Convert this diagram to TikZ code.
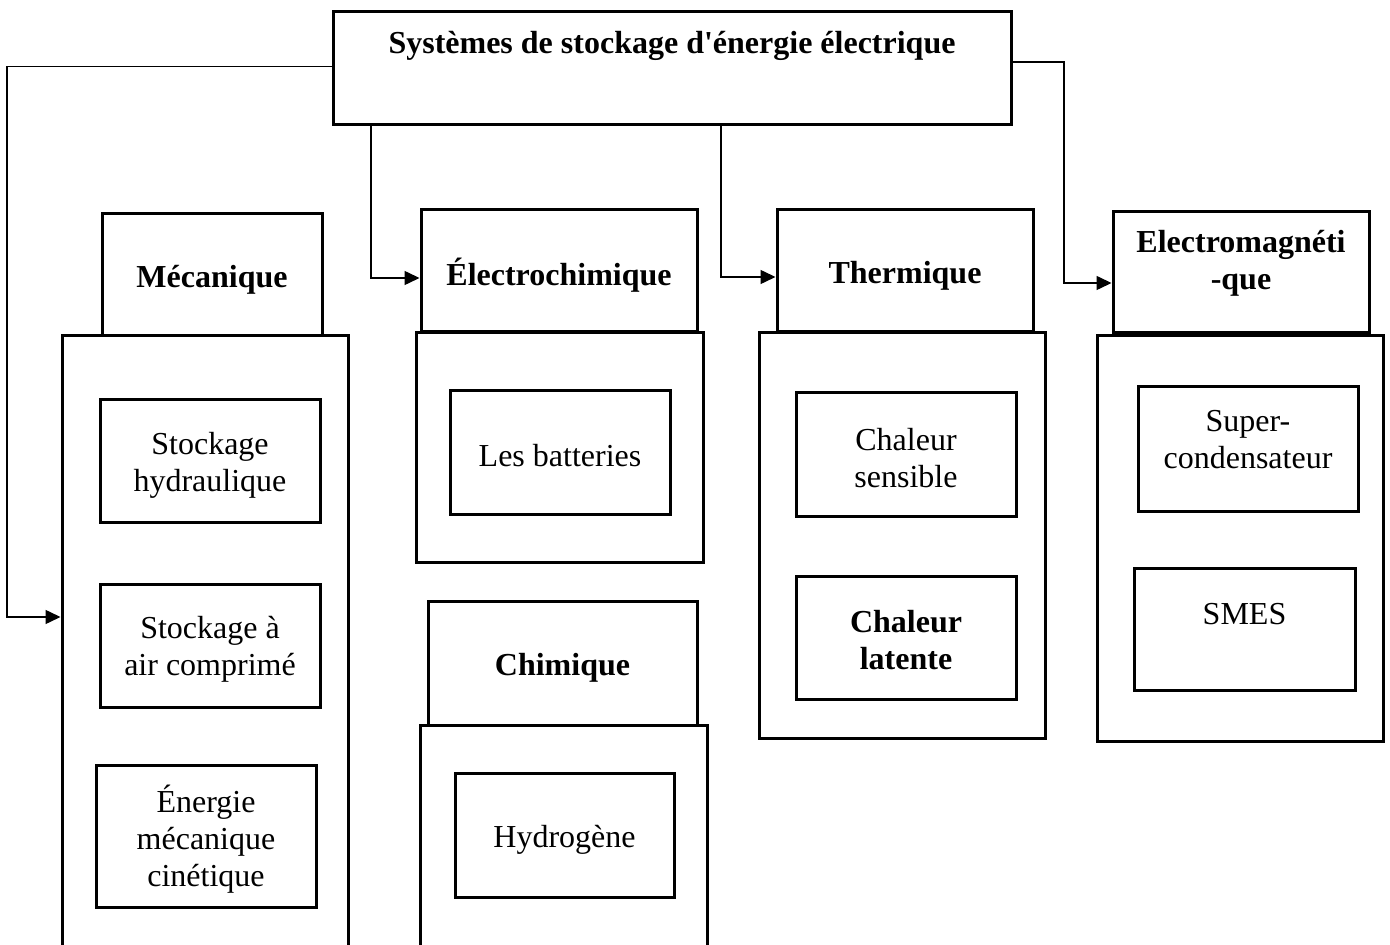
\documentclass[tikz,border=0pt]{standalone}
\usepackage{fontspec}
\setmainfont{Liberation Serif}[Ligatures=TeXOff]
\usetikzlibrary{arrows.meta}
\tikzset{
  box/.style={draw, line width=1.5pt, inner sep=0pt},
  txt/.style={inner sep=0pt, align=center, font=\fontsize{16}{18.5}\selectfont},
  btxt/.style={txt, font=\fontsize{16}{18.5}\selectfont\bfseries},
  conn/.style={line width=0.75pt, -{Triangle[length=7.5pt,width=7pt]}}
}
\begin{document}
\begin{tikzpicture}[x=0.5pt,y=-0.5pt]
\useasboundingbox (0,0) rectangle (1390,945);
% title
\node[box, minimum width=339pt, minimum height=56.5pt] (title) at (672,68.5) {};
\node[btxt] (titletxt) at (672,46) {Systèmes de stockage d'énergie électrique};
% Mécanique
\node[box, minimum width=143pt, minimum height=312pt] (mo) at (205,648) {};
\node[box, minimum width=110pt, minimum height=61pt] (mh) at (212,275) {};
\node[btxt] at ([yshift=-2.5pt]mh.center) {Mécanique};
\node[box, minimum width=110pt, minimum height=61.5pt] (m1) at (210,461.5) {};
\node[txt] at ([yshift=-2pt]m1.center) {Stockage\\hydraulique};
\node[box, minimum width=110pt, minimum height=61.5pt] (m2) at (210,645.5) {};
\node[txt] at ([yshift=-2pt]m2.center) {Stockage à\\air comprimé};
\node[box, minimum width=110pt, minimum height=71pt] (m3) at (206,836.5) {};
\node[txt] at ([yshift=-1.5pt]m3.center) {Énergie\\mécanique\\cinétique};
% Électrochimique
\node[box, minimum width=143.5pt, minimum height=114.5pt] (eo) at (559.5,447.5) {};
\node[box, minimum width=138pt, minimum height=61pt] (eh) at (559,271) {};
\node[btxt] at ([yshift=-2pt]eh.center) {Électrochimique};
\node[box, minimum width=110pt, minimum height=62pt] (e1) at (560,453) {};
\node[txt] at ([yshift=-1.5pt]e1.center) {Les batteries};
% Chimique
\node[box, minimum width=143.5pt, minimum height=117.5pt] (co) at (563.5,842.5) {};
\node[box, minimum width=134.5pt, minimum height=62pt] (ch) at (562.5,663) {};
\node[btxt] at ([yshift=-2.5pt]ch.center) {Chimique};
\node[box, minimum width=109.5pt, minimum height=62pt] (c1) at (564.5,835) {};
\node[txt] at ([yshift=-2.5pt]c1.center) {Hydrogène};
% Thermique
\node[box, minimum width=143pt, minimum height=202.5pt] (to) at (902,535.5) {};
\node[box, minimum width=128pt, minimum height=61pt] (th) at (905,271) {};
\node[btxt] at ([yshift=-2.5pt]th.center) {Thermique};
\node[box, minimum width=110pt, minimum height=62pt] (t1) at (906,455) {};
\node[txt] at ([yshift=-1.5pt]t1.center) {Chaleur\\sensible};
\node[box, minimum width=110pt, minimum height=61.5pt] (t2) at (906,637.5) {};
\node[btxt] at ([yshift=-1.5pt]t2.center) {Chaleur\\latente};
% Electromagnétique
\node[box, minimum width=143pt, minimum height=202.5pt] (emo) at (1240,538.5) {};
\node[box, minimum width=128pt, minimum height=60.5pt] (emh) at (1241,272.5) {};
\node[btxt] (emhtxt) at (1241,263.5) {Electromagnéti\\-que};
\node[box, minimum width=110pt, minimum height=62.5pt] (em1) at (1248,449.5) {};
\node[txt] (em1txt) at (1248,439.5) {Super-\\condensateur};
\node[box, minimum width=110.5pt, minimum height=61pt] (em2) at (1244.5,629) {};
\node[txt] (em2txt) at (1244.5,614.5) {SMES};
% connectors
\coordinate (l1) at (7,617);
\draw[conn] (title.west |- 0,66.7) -| (l1) -- (l1 -| mo.west);
\coordinate (a1) at (371,278);
\draw[conn] (title.south -| a1) |- (eh.west |- a1);
\coordinate (a2) at (721,277);
\draw[conn] (title.south -| a2) |- (th.west |- a2);
\coordinate (r1) at (1064,62);
\coordinate (r2) at (1064,283);
\draw[conn] (title.east |- r1) -- (r1) -- (r2) -- (emh.west |- r2);
\end{tikzpicture}
\end{document}
